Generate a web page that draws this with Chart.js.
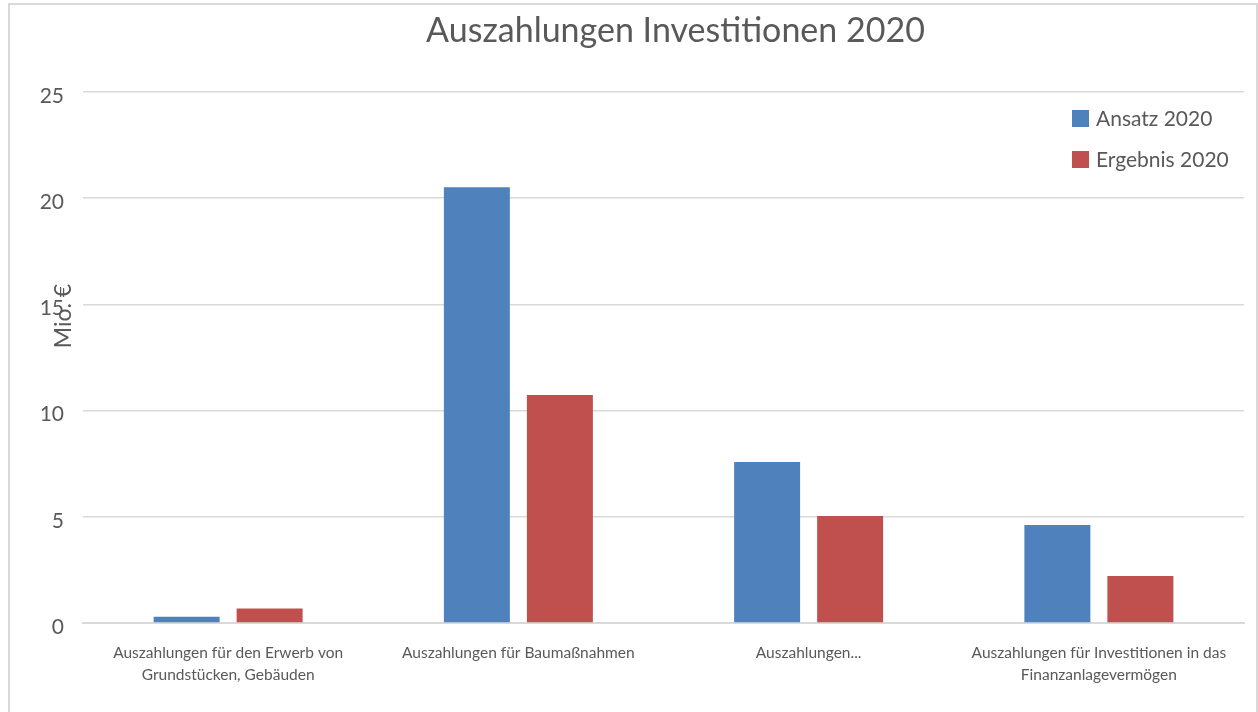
<!DOCTYPE html>
<html>
<head>
<meta charset="utf-8">
<script src="https://cdn.jsdelivr.net/npm/chart.js@4/dist/chart.umd.min.js"></script>
<style>
  html, body { margin: 0; padding: 0; background: #fff; }
  #wrap { position: relative; width: 1258px; height: 712px; }
</style>
</head>
<body>
<div id="wrap"><canvas id="chart" width="1258" height="712"></canvas></div>
<script>
// Data
const categories = [
  ['Auszahlungen für den Erwerb von', 'Grundstücken, Gebäuden'],
  'Auszahlungen für Baumaßnahmen',
  'Auszahlungen...',
  ['Auszahlungen für Investitionen in das', 'Finanzanlagevermögen']
];
const ansatz2020 = [0.29, 20.52, 7.58, 4.61];
const ergebnis2020 = [0.68, 10.73, 5.04, 2.21];
const yTicks = [0, 5, 10, 15, 20, 25];

const chartTitle = 'Auszahlungen Investitionen 2020';
const yTitle = 'Mio. €';

const textColor = '#595959';
const gridColor = '#d9d9d9';
const fontFamily = 'Lato, "Open Sans", sans-serif';

// Title, axis title, legend and frame drawn by hand (Excel-like layout)
const decorPlugin = {
  id: 'decor',
  beforeDraw(chart) {
    const ctx = chart.ctx;
    ctx.save();
    ctx.strokeStyle = gridColor;
    ctx.lineWidth = 2;
    ctx.strokeRect(9, 4, 1248, 720);
    ctx.restore();
  },
  afterDraw(chart) {
    const ctx = chart.ctx;
    const area = chart.chartArea;
    ctx.save();
    ctx.fillStyle = textColor;

    // chart title
    ctx.font = '34px ' + fontFamily;
    ctx.textAlign = 'center';
    ctx.textBaseline = 'middle';
    ctx.fillText(chartTitle, (area.left + area.right) / 2 + 12, 31);

    // y axis title, overlapping tick labels like the original
    ctx.save();
    ctx.translate(area.left - 19, area.top + 224);
    ctx.rotate(-Math.PI / 2);
    ctx.font = '23px ' + fontFamily;
    ctx.fillText(yTitle, 0, 0);
    ctx.restore();

    // legend inside plot, top right
    ctx.font = '21px ' + fontFamily;
    ctx.textAlign = 'left';
    chart.data.datasets.forEach((ds, i) => {
      const y = area.top + 26 + i * 41;
      ctx.fillStyle = ds.backgroundColor;
      ctx.fillRect(area.right - 172, y - 8, 17, 17);
      ctx.fillStyle = textColor;
      ctx.fillText(ds.label, area.right - 148, y + 1);
    });
    ctx.restore();
  }
};

const ctx = document.getElementById('chart').getContext('2d');
new Chart(ctx, {
  type: 'bar',
  data: {
    labels: categories,
    datasets: [
      {
        label: 'Ansatz 2020',
        data: ansatz2020,
        backgroundColor: '#4f81bd',
        categoryPercentage: 0.572,
        barPercentage: 0.795
      },
      {
        label: 'Ergebnis 2020',
        data: ergebnis2020,
        backgroundColor: '#c0504d',
        categoryPercentage: 0.572,
        barPercentage: 0.795
      }
    ]
  },
  options: {
    responsive: false,
    animation: false,
    layout: {
      padding: { left: 10, right: 14, top: 92, bottom: 0 }
    },
    plugins: {
      legend: { display: false },
      title: { display: false },
      tooltip: { enabled: false }
    },
    scales: {
      x: {
        grid: { display: false, drawTicks: false },
        border: { display: true, color: gridColor, width: 2 },
        ticks: {
          color: textColor,
          font: { family: fontFamily, size: 15.5, lineHeight: 1.42 },
          padding: 19,
          maxRotation: 0,
          autoSkip: false
        },
        afterFit(scale) { scale.height = 89; }
      },
      y: {
        min: 0,
        max: 25,
        afterBuildTicks(scale) {
          scale.ticks = yTicks.map(v => ({ value: v }));
        },
        grid: { color: gridColor, lineWidth: 1.5, drawTicks: false },
        border: { display: false },
        ticks: {
          color: textColor,
          font: { family: fontFamily, size: 21 },
          padding: 19,
          labelOffset: 4
        },
        afterFit(scale) { scale.width = 73; }
      }
    }
  },
  plugins: [decorPlugin]
});
</script>
</body>
</html>
